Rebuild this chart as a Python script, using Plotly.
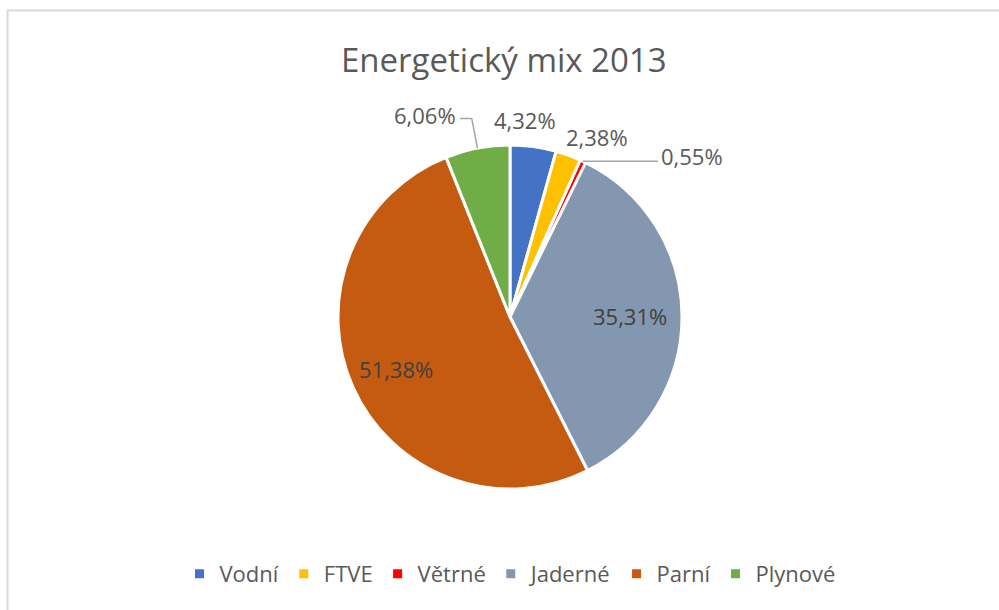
import math
import plotly.graph_objects as go

# ---- data ----
categories = ["Vodní", "FTVE", "Větrné", "Jaderné", "Parní", "Plynové"]
shares = [4.32, 2.38, 0.55, 35.31, 51.38, 6.06]
colors = ["#4472C4", "#FFC000", "#FF0000", "#8497B0", "#C55A11", "#70AD47"]
title_text = "Energetický mix 2013"

# ---- label placement style (radius factor, angle shift in deg) ----
label_mode = ["out", "out", "leader_left", "in", "in", "leader_right"]
label_rf = [1.151, 1.163, 1.25, 0.70, 0.73, 1.193]
label_dtheta = [-3.5, 6.0, 18.4, 0.0, 0.0, -3.2]
elbow_rf = [None, None, 1.0, None, None, 1.175]
label_color = ["#595959", "#595959", "#595959", "#404040", "#404040", "#595959"]

W, H = 999, 610
CX, CY, R = 510, 317, 172
FONT = "Open Sans"


def px(x):
    return x / W


def py(y):
    return 1 - y / H


def polar(angle_deg, r):
    a = math.radians(angle_deg)
    return CX + r * math.sin(a), CY - r * math.cos(a)


fig = go.Figure()
fig.add_trace(go.Pie(
    labels=categories,
    values=shares,
    sort=False,
    direction="clockwise",
    rotation=0,
    marker=dict(colors=colors, line=dict(color="white", width=3)),
    textinfo="none",
    hoverinfo="label+percent",
    domain=dict(x=[px(CX - R), px(CX + R)], y=[py(CY + R), py(CY - R)]),
    showlegend=True,
))

total = sum(shares)
annotations = []
shapes = []
cum = 0.0
for i, v in enumerate(shares):
    start = cum / total * 360
    cum += v
    end = cum / total * 360
    mid = (start + end) / 2
    txt = f"{v / total * 100:.2f}".replace(".", ",") + "%"
    lx, ly = polar(mid + label_dtheta[i], R * label_rf[i])
    mode = label_mode[i]
    font = dict(family=FONT, size=22, color=label_color[i])
    if mode in ("out", "in"):
        annotations.append(dict(
            x=px(lx), y=py(ly), xref="paper", yref="paper", text=txt,
            showarrow=False, xanchor="center", yanchor="middle", font=font))
    else:
        ex, ey = polar(mid, R)
        bx, by = polar(mid, R * elbow_rf[i])
        shapes.append(dict(
            type="path", xref="paper", yref="paper",
            path=f"M {px(ex)},{py(ey)} L {px(bx)},{py(by)} L {px(lx)},{py(by)}",
            line=dict(color="#A6A6A6", width=1.5)))
        if mode == "leader_left":
            annotations.append(dict(
                x=px(lx + 1), y=py(by - 5), xref="paper", yref="paper", text=txt,
                showarrow=False, xanchor="left", yanchor="middle", font=font))
        else:
            annotations.append(dict(
                x=px(lx - 2), y=py(by - 4), xref="paper", yref="paper", text=txt,
                showarrow=False, xanchor="right", yanchor="middle", font=font))

# title
annotations.append(dict(
    x=px(504), y=py(59), xref="paper", yref="paper", text=title_text,
    showarrow=False, xanchor="center", yanchor="middle",
    font=dict(family=FONT, size=33, color="#595959")))

# chart border
shapes.append(dict(type="rect", xref="paper", yref="paper",
                   x0=px(7.5), y0=py(10.5), x1=1.2, y1=-0.2,
                   line=dict(color="#D9D9D9", width=2)))

fig.update_layout(
    width=W, height=H,
    margin=dict(l=0, r=0, t=0, b=0),
    paper_bgcolor="white",
    plot_bgcolor="white",
    annotations=annotations,
    shapes=shapes,
    legend=dict(
        orientation="h", x=px(510), xanchor="center", y=py(574), yanchor="middle",
        font=dict(family=FONT, size=22, color="#595959"),
        bgcolor="rgba(0,0,0,0)",
    ),
)

fig.write_html(
    "out.html",
    config={"displayModeBar": False},
    post_script="document.body.style.margin='0';document.body.style.overflow='hidden';",
)
